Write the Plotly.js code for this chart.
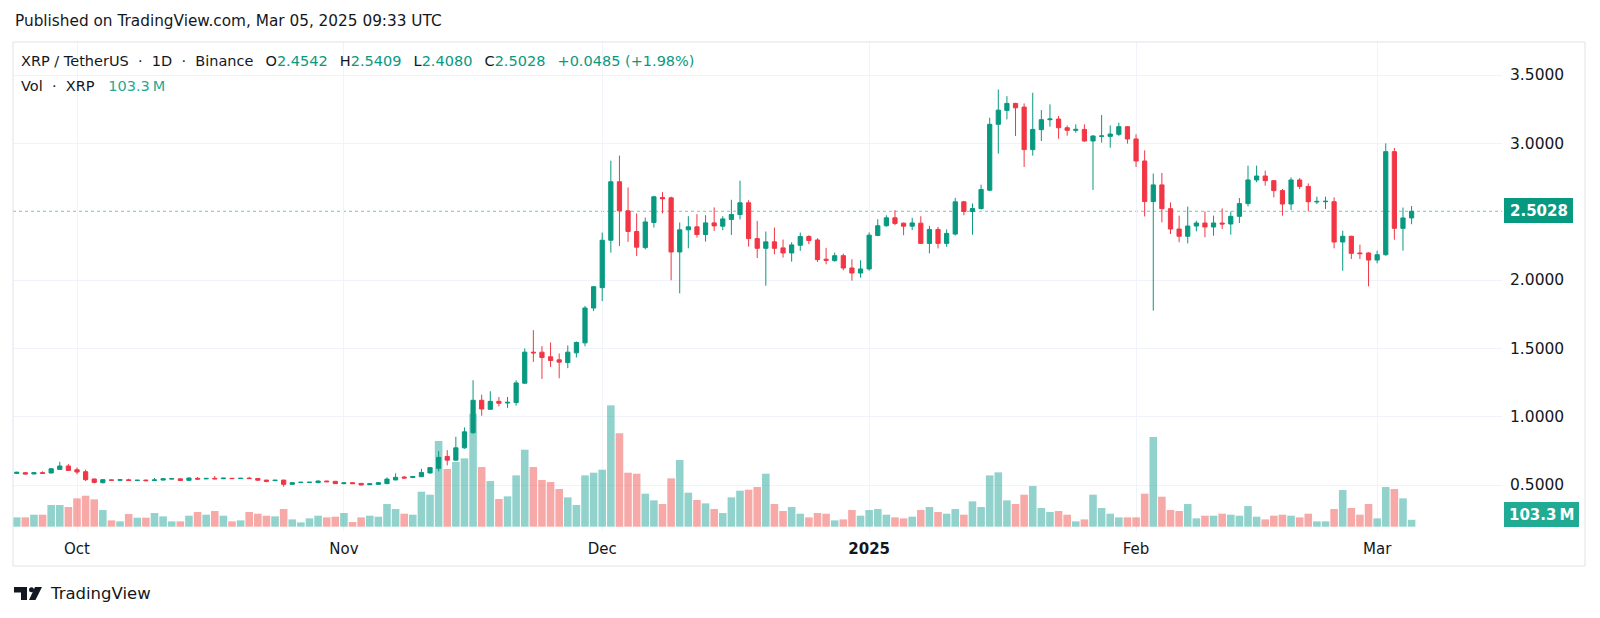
<!DOCTYPE html>
<html>
<head>
<meta charset="utf-8">
<script src="https://cdn.plot.ly/plotly-3.0.1.min.js"></script>
<style>html,body{margin:0;padding:0;background:#fff;}#chart{width:1600px;height:618px;}</style>
</head>
<body>
<div id="chart"></div>
<script>
// ---------- DATA ----------
const dates = [
"2024-09-24","2024-09-25","2024-09-26","2024-09-27","2024-09-28","2024-09-29","2024-09-30",
"2024-10-01","2024-10-02","2024-10-03","2024-10-04","2024-10-05","2024-10-06","2024-10-07","2024-10-08","2024-10-09","2024-10-10",
"2024-10-11","2024-10-12","2024-10-13","2024-10-14","2024-10-15","2024-10-16","2024-10-17","2024-10-18","2024-10-19","2024-10-20",
"2024-10-21","2024-10-22","2024-10-23","2024-10-24","2024-10-25","2024-10-26","2024-10-27","2024-10-28","2024-10-29","2024-10-30","2024-10-31",
"2024-11-01","2024-11-02","2024-11-03","2024-11-04","2024-11-05","2024-11-06","2024-11-07","2024-11-08","2024-11-09","2024-11-10",
"2024-11-11","2024-11-12","2024-11-13","2024-11-14","2024-11-15","2024-11-16","2024-11-17","2024-11-18","2024-11-19","2024-11-20",
"2024-11-21","2024-11-22","2024-11-23","2024-11-24","2024-11-25","2024-11-26","2024-11-27","2024-11-28","2024-11-29","2024-11-30",
"2024-12-01","2024-12-02","2024-12-03","2024-12-04","2024-12-05","2024-12-06","2024-12-07","2024-12-08","2024-12-09","2024-12-10",
"2024-12-11","2024-12-12","2024-12-13","2024-12-14","2024-12-15","2024-12-16","2024-12-17","2024-12-18","2024-12-19","2024-12-20",
"2024-12-21","2024-12-22","2024-12-23","2024-12-24","2024-12-25","2024-12-26","2024-12-27","2024-12-28","2024-12-29","2024-12-30","2024-12-31",
"2025-01-01","2025-01-02","2025-01-03","2025-01-04","2025-01-05","2025-01-06","2025-01-07","2025-01-08","2025-01-09","2025-01-10",
"2025-01-11","2025-01-12","2025-01-13","2025-01-14","2025-01-15","2025-01-16","2025-01-17","2025-01-18","2025-01-19","2025-01-20",
"2025-01-21","2025-01-22","2025-01-23","2025-01-24","2025-01-25","2025-01-26","2025-01-27","2025-01-28","2025-01-29","2025-01-30","2025-01-31",
"2025-02-01","2025-02-02","2025-02-03","2025-02-04","2025-02-05","2025-02-06","2025-02-07","2025-02-08","2025-02-09","2025-02-10",
"2025-02-11","2025-02-12","2025-02-13","2025-02-14","2025-02-15","2025-02-16","2025-02-17","2025-02-18","2025-02-19","2025-02-20",
"2025-02-21","2025-02-22","2025-02-23","2025-02-24","2025-02-25","2025-02-26","2025-02-27","2025-02-28",
"2025-03-01","2025-03-02","2025-03-03","2025-03-04","2025-03-05"
];
const open = [
0.585,0.590,0.581,0.590,0.588,0.614,0.639,
0.612,0.597,0.544,0.517,0.537,0.535,0.538,0.533,0.536,0.533,
0.536,0.544,0.545,0.534,0.549,0.545,0.549,0.546,0.549,0.547,
0.550,0.548,0.536,0.532,0.536,0.505,0.518,0.519,0.517,0.529,0.527,
0.510,0.517,0.512,0.502,0.505,0.510,0.537,0.558,0.555,0.561,
0.588,0.622,0.709,0.682,0.772,0.883,1.120,1.054,1.112,1.100,
1.103,1.245,1.472,1.472,1.438,1.416,1.396,1.467,1.540,1.795,
1.944,2.291,2.719,2.506,2.355,2.237,2.421,2.604,2.601,2.205,
2.367,2.389,2.333,2.418,2.394,2.443,2.479,2.565,2.303,2.232,
2.279,2.235,2.198,2.254,2.318,2.293,2.152,2.142,2.178,2.088,2.051,
2.081,2.326,2.397,2.455,2.416,2.394,2.416,2.268,2.370,2.268,
2.336,2.572,2.501,2.523,2.657,3.139,3.241,3.292,3.265,2.954,
3.100,3.173,3.178,3.114,3.095,3.102,3.017,3.051,3.051,3.066,3.122,
3.032,2.871,2.574,2.696,2.522,2.373,2.320,2.395,2.417,2.388,
2.417,2.410,2.466,2.559,2.732,2.761,2.727,2.654,2.556,2.732,
2.685,2.571,2.573,2.573,2.278,2.320,2.198,2.198,
2.146,2.185,2.939,2.378,2.4542
];
const high = [
0.597,0.595,0.593,0.600,0.622,0.670,0.653,
0.629,0.612,0.547,0.544,0.540,0.544,0.546,0.537,0.539,0.551,
0.548,0.548,0.547,0.556,0.558,0.553,0.566,0.552,0.551,0.551,
0.560,0.551,0.538,0.537,0.539,0.519,0.522,0.522,0.534,0.531,0.529,
0.522,0.520,0.514,0.514,0.520,0.556,0.585,0.565,0.566,0.619,
0.631,0.748,0.755,0.853,0.921,1.267,1.161,1.186,1.144,1.144,
1.266,1.499,1.633,1.516,1.543,1.462,1.521,1.550,1.810,1.956,
2.347,2.873,2.910,2.677,2.487,2.457,2.616,2.643,2.610,2.421,
2.467,2.482,2.474,2.531,2.467,2.587,2.726,2.584,2.433,2.355,
2.384,2.296,2.276,2.347,2.328,2.306,2.235,2.200,2.193,2.152,2.144,
2.348,2.445,2.474,2.511,2.420,2.455,2.467,2.397,2.389,2.370,
2.601,2.579,2.560,2.698,3.187,3.394,3.345,3.297,3.292,3.370,
3.243,3.285,3.200,3.131,3.139,3.139,3.058,3.207,3.131,3.151,3.127,
3.066,2.949,2.779,2.783,2.568,2.471,2.537,2.434,2.502,2.471,
2.524,2.500,2.600,2.837,2.837,2.800,2.727,2.666,2.751,2.746,
2.707,2.610,2.610,2.605,2.361,2.324,2.259,2.202,
2.215,3.000,2.966,2.530,2.5409
];
const low = [
0.580,0.578,0.578,0.583,0.585,0.612,0.603,
0.578,0.529,0.512,0.512,0.532,0.533,0.531,0.527,0.527,0.530,
0.534,0.542,0.531,0.532,0.536,0.542,0.542,0.543,0.545,0.545,
0.545,0.533,0.520,0.529,0.488,0.503,0.515,0.516,0.515,0.521,0.508,
0.506,0.507,0.497,0.499,0.502,0.508,0.535,0.548,0.550,0.558,
0.584,0.600,0.644,0.680,0.765,0.875,1.007,1.050,1.076,1.064,
1.081,1.240,1.401,1.276,1.364,1.281,1.355,1.433,1.515,1.773,
1.846,2.200,2.249,2.279,2.176,2.225,2.384,2.487,1.998,1.902,
2.232,2.311,2.281,2.359,2.364,2.330,2.443,2.244,2.161,1.958,
2.188,2.164,2.134,2.213,2.262,2.132,2.115,2.134,2.071,1.995,2.017,
2.068,2.320,2.390,2.401,2.328,2.365,2.263,2.195,2.231,2.243,
2.326,2.474,2.331,2.515,2.650,2.925,3.175,3.054,2.827,2.910,
3.017,3.122,3.034,3.056,3.078,3.012,2.659,3.005,2.968,3.054,2.998,
2.827,2.465,1.776,2.422,2.337,2.276,2.268,2.356,2.312,2.324,
2.373,2.332,2.417,2.539,2.715,2.690,2.605,2.471,2.512,2.666,
2.502,2.556,2.520,2.232,2.068,2.154,2.154,1.954,
2.122,2.178,2.295,2.215,2.4080
];
const close = [
0.593,0.580,0.590,0.586,0.619,0.639,0.607,
0.595,0.539,0.519,0.539,0.535,0.538,0.533,0.535,0.532,0.537,
0.546,0.546,0.533,0.551,0.543,0.548,0.545,0.550,0.547,0.549,
0.547,0.535,0.527,0.535,0.505,0.517,0.520,0.520,0.529,0.524,0.510,
0.515,0.510,0.500,0.509,0.517,0.543,0.556,0.551,0.562,0.592,
0.627,0.702,0.682,0.772,0.889,1.120,1.056,1.112,1.098,1.105,
1.247,1.472,1.467,1.433,1.411,1.399,1.472,1.543,1.795,1.951,
2.291,2.719,2.506,2.355,2.240,2.425,2.609,2.594,2.205,2.367,
2.389,2.333,2.418,2.396,2.447,2.479,2.565,2.303,2.232,2.279,
2.232,2.198,2.257,2.318,2.289,2.149,2.144,2.178,2.088,2.051,2.081,
2.328,2.397,2.455,2.414,2.394,2.418,2.268,2.370,2.268,2.341,
2.572,2.501,2.523,2.662,3.139,3.243,3.292,3.260,2.954,3.102,
3.173,3.178,3.114,3.095,3.102,3.017,3.054,3.054,3.068,3.122,3.032,
2.871,2.574,2.696,2.522,2.373,2.320,2.395,2.417,2.388,2.417,
2.410,2.466,2.559,2.732,2.761,2.727,2.654,2.556,2.732,2.685,
2.573,2.575,2.576,2.278,2.320,2.195,2.193,2.146,
2.185,2.939,2.378,2.4542,2.5028
];
// volume, millions of XRP
const volume = [
140,140,180,180,325,325,295,
425,465,410,250,95,80,190,135,135,205,
155,80,80,165,220,180,235,165,80,95,
220,195,165,155,265,110,65,125,165,140,150,
205,70,140,165,150,340,265,195,180,525,
480,1285,865,970,1025,1695,895,685,415,455,
770,1155,895,700,670,565,440,325,770,810,
855,1820,1400,810,795,495,395,340,725,1000,
510,400,350,265,205,440,540,555,595,795,
340,235,295,195,140,205,195,95,110,250,165,
250,265,180,140,125,150,250,295,220,195,
265,180,380,295,770,815,395,340,480,610,
280,220,235,180,80,110,480,280,195,140,140,
140,495,1345,450,250,235,340,125,165,165,
195,180,165,310,150,110,165,180,165,140,
195,80,80,265,550,280,180,340,
125,595,565,425,103.3
];
const monthTicks = ["2024-10-01","2024-11-01","2024-12-01","2025-01-01","2025-02-01","2025-03-01"];
const monthLabels = ["Oct","Nov","Dec","<b>2025</b>","Feb","Mar"];
const priceTicks = [0.5,1.0,1.5,2.0,3.0,3.5];   // 2.5 is covered by the last-price tag
const header = {symbol:["XRP","TetherUS","1D","Binance"], o:"2.4542", h:"2.5409", l:"2.4080", c:"2.5028", chg:"+0.0485 (+1.98%)"};
const volLabel = "103.3\u2009M";
const lastPrice = close[close.length-1];

// ---------- STYLE ----------
const UP = "#089981", DOWN = "#f23645";
const VUP = "rgba(38,166,154,0.5)", VDOWN = "rgba(239,83,80,0.5)";
const GRID = "#f0f3fa";
const FONT = "DejaVu Sans, sans-serif";
const TXT = "#131722";
const SP = "\u00a0";
const GAP = SP + SP + "\u2009";

// plot geometry (px)
const PL = 13, PR = 1502, PT = 42, PB = 531;
const px = x => (x - PL) / (PR - PL);
const py = y => (PB - y) / (PB - PT);

const volColors = close.map((c, i) => c >= open[i] ? VUP : VDOWN);

const traces = [
  {type:"bar", x:dates, y:volume, yaxis:"y", xaxis:"x",
   marker:{color:volColors, line:{width:0}}, hoverinfo:"skip"},
  {type:"candlestick", x:dates, open:open, high:high, low:low, close:close,
   xaxis:"x", yaxis:"y2", whiskerwidth:0,
   increasing:{line:{color:UP, width:1}, fillcolor:UP},
   decreasing:{line:{color:DOWN, width:1}, fillcolor:DOWN},
   hoverinfo:"skip"}
];

const dot = SP+SP+"·"+SP+SP;
const sym = header.symbol[0] + SP+"/"+SP + header.symbol[1] + dot + header.symbol[2] + dot + header.symbol[3];
const val = v => "<span style='color:"+UP+"'>"+v+"</span>";
const hdrText = sym + GAP+"O"+val(header.o)+GAP+"H"+val(header.h)+GAP+"L"+val(header.l)+
  GAP+"C"+val(header.c)+GAP+val(header.chg);

const shapes = [
  // outer frame
  {type:"line", xref:"paper", yref:"paper", x0:px(13), x1:px(1585), y0:py(42), y1:py(42), line:{color:"#e0e3eb", width:1}},
  {type:"line", xref:"paper", yref:"paper", x0:px(13), x1:px(1585), y0:py(566), y1:py(566), line:{color:"#e0e3eb", width:1}},
  {type:"line", xref:"paper", yref:"paper", x0:px(13), x1:px(13), y0:py(42), y1:py(566), line:{color:"#e0e3eb", width:1}},
  {type:"line", xref:"paper", yref:"paper", x0:px(1585), x1:px(1585), y0:py(42), y1:py(566), line:{color:"#e0e3eb", width:1}},
  // last price dotted line
  {type:"line", xref:"paper", yref:"y2", x0:0, x1:1, y0:lastPrice, y1:lastPrice, layer:"below",
   line:{color:"rgba(8,153,129,0.55)", width:1, dash:"dot"}},
  // price tag
  {type:"rect", xref:"paper", yref:"paper", x0:px(1504), x1:px(1573), y0:py(198), y1:py(223),
   fillcolor:UP, line:{width:0}},
  // volume tag
  {type:"rect", xref:"paper", yref:"paper", x0:px(1504), x1:px(1579), y0:py(502), y1:py(527),
   fillcolor:"#22ab94", line:{width:0}},
  // TradingView logo
  {type:"path", xref:"paper", yref:"paper", fillcolor:TXT, line:{width:0},
   path:`M${px(14)},${py(587)} L${px(27)},${py(587)} L${px(27)},${py(600)} L${px(21)},${py(600)} L${px(21)},${py(592.5)} L${px(14)},${py(592.5)} Z`},
  {type:"circle", xref:"paper", yref:"paper", fillcolor:TXT, line:{width:0},
   x0:px(29), x1:px(34), y0:py(587.2), y1:py(592.2)},
  {type:"path", xref:"paper", yref:"paper", fillcolor:TXT, line:{width:0},
   path:`M${px(35)},${py(587)} L${px(42)},${py(587)} L${px(35.5)},${py(600)} L${px(29)},${py(600)} Z`}
];

const annotations = [
  {xref:"paper", yref:"paper", x:px(13), y:py(20.5), xanchor:"left", yanchor:"middle", showarrow:false,
   text:"Published on TradingView.com, Mar 05, 2025 09:33 UTC", font:{family:FONT, size:15.3, color:TXT}},
  {xref:"paper", yref:"paper", x:px(19), y:py(61), xanchor:"left", yanchor:"middle", showarrow:false,
   text:hdrText, font:{family:FONT, size:14.5, color:TXT}},
  {xref:"paper", yref:"paper", x:px(19), y:py(86), xanchor:"left", yanchor:"middle", showarrow:false,
   text:"Vol"+dot+"XRP"+SP+SP+SP+"<span style='color:#22ab94'>"+volLabel+"</span>", font:{family:FONT, size:14.5, color:TXT}},
  {xref:"paper", yref:"paper", x:px(1538.5), y:py(210.5), xanchor:"center", yanchor:"middle", showarrow:false,
   text:"<b>"+lastPrice.toFixed(4)+"</b>", font:{family:FONT, size:15, color:"#ffffff"}},
  {xref:"paper", yref:"paper", x:px(1541.5), y:py(514.5), xanchor:"center", yanchor:"middle", showarrow:false,
   text:"<b>"+volLabel+"</b>", font:{family:FONT, size:15, color:"#ffffff"}},
  {xref:"paper", yref:"paper", x:px(48), y:py(593), xanchor:"left", yanchor:"middle", showarrow:false,
   text:"TradingView", font:{family:FONT, size:16.5, color:TXT}}
];

const layout = {
  width:1600, height:618,
  margin:{l:PL, r:1600-PR, t:PT, b:618-PB, pad:0},
  paper_bgcolor:"#ffffff", plot_bgcolor:"#ffffff",
  showlegend:false, dragmode:false, bargap:0.12,
  font:{family:FONT, color:TXT, size:14},
  xaxis:{type:"date", range:["2024-09-23 13:36","2025-03-15 12:00"],
    tickmode:"array", tickvals:monthTicks, ticktext:monthLabels,
    showgrid:true, gridcolor:GRID, gridwidth:1, zeroline:false, showline:false,
    ticks:"", ticklabelstandoff:7, tickfont:{family:FONT, size:15, color:TXT},
    rangeslider:{visible:false}, fixedrange:true},
  yaxis:{range:[-64.5, 7270], visible:false, showgrid:false, zeroline:false, fixedrange:true},
  yaxis2:{overlaying:"y", side:"right", range:[0.1634, 3.7415],
    tickmode:"array", tickvals:priceTicks, tickformat:".4f",
    showgrid:true, gridcolor:GRID, gridwidth:1, zeroline:false, showline:false,
    ticks:"", ticklabelstandoff:7, tickfont:{family:FONT, size:15.5, color:TXT}, fixedrange:true},
  shapes:shapes,
  annotations:annotations
};

Plotly.newPlot("chart", traces, layout, {displayModeBar:false, staticPlot:true});
</script>
</body>
</html>
